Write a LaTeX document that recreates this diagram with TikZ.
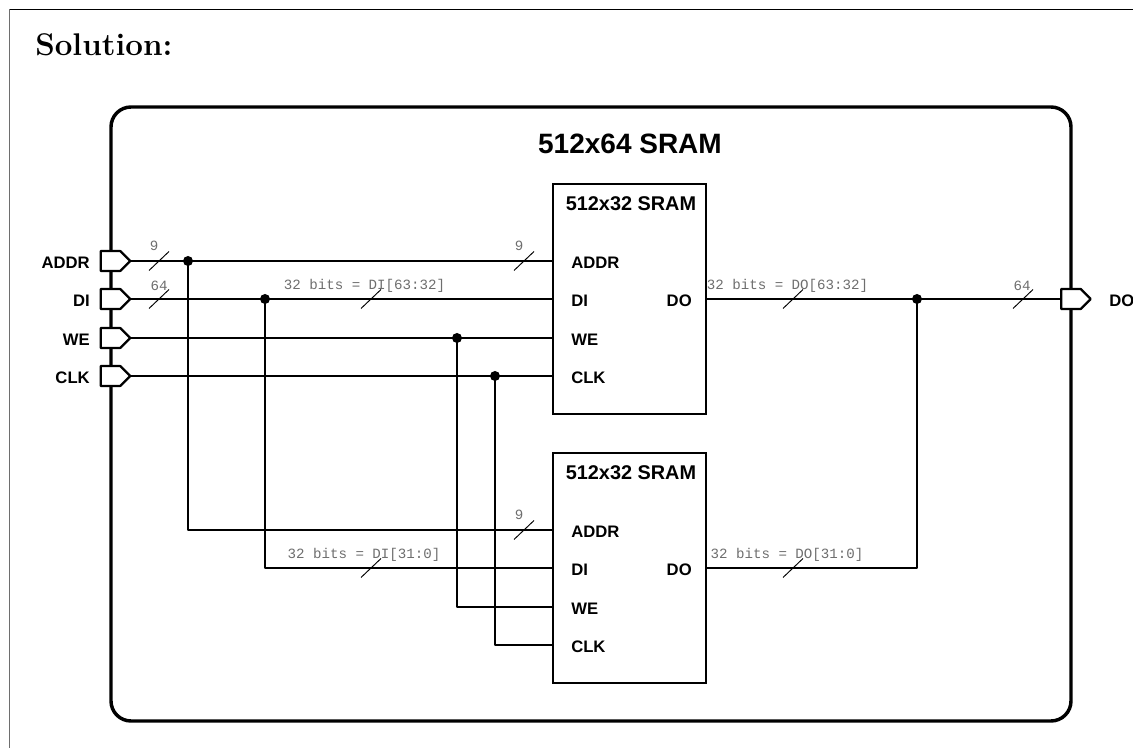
\documentclass[tikz,border=0pt]{standalone}
\usepackage{fontspec}
\setsansfont{Liberation Sans}
\setmonofont{Liberation Mono}
\usetikzlibrary{shapes.symbols}
\definecolor{framegray}{RGB}{110,110,110}
\definecolor{buslabel}{RGB}{110,110,110}
\tikzset{
  wire/.style={line width=1.7pt,line join=round},
  outline/.style={line width=2.6pt,rounded corners=15pt},
  ramblock/.style={draw,line width=1.7pt,minimum width=114.75pt,minimum height=172.5pt,inner sep=0pt,outer sep=0pt},
  port/.style={draw,fill=white,line width=1.7pt,line join=round,signal,signal to=east,signal pointer angle=90,
    minimum width=22pt,minimum height=15pt,inner sep=0pt,outer sep=0pt},
  pinlabel/.style={font=\sffamily\bfseries\fontsize{12.5}{14}\selectfont,inner sep=0pt},
  ramtitle/.style={font=\sffamily\bfseries\fontsize{14.9}{17}\selectfont,inner sep=0pt},
  buslabeltext/.style={font=\ttfamily\fontsize{10.6}{12}\selectfont,text=buslabel,inner sep=0pt},
  busslash/.style={line width=.7pt},
  dotnode/.style={circle,fill,inner sep=0pt,minimum size=7.5pt}
}
\begin{document}
\begin{tikzpicture}[x=.75pt,y=-.75pt]
  \useasboundingbox (0,0) rectangle (1133,748);
  \draw[framegray,line width=.75pt] (9.5,748)--(9.5,9.5);
  \draw[line width=.75pt] (9.5,9.5)--(1133,9.5);
  \node[anchor=base west,inner sep=0pt,font=\bfseries\fontsize{23.5}{28}\selectfont] (solution) at (35,56) {Solution:};
  % outer block
  \draw[outline] (111,107) rectangle (1071,721);
  \node[font=\sffamily\bfseries\fontsize{21}{25}\selectfont,inner sep=0pt] (title) at (630,144) {512x64 SRAM};
  % memories
  \node[ramblock] (ramA) at (629.5,299) {};
  \node[ramblock] (ramB) at (629.5,568) {};
  \node[ramtitle] (titleA) at (631,204) {512x32 SRAM};
  \node[ramtitle] (titleB) at (631,473) {512x32 SRAM};
  \foreach \n/\t/\y in {addr/ADDR/261,di/DI/299,we/WE/338,clk/CLK/376}
  {
    \node[port] (p\n) at (110.5,\y) {};
    \node[pinlabel,anchor=east] (l\n) at (90,\y+2) {\t};
    \coordinate (\n A) at (553,\y);
    \coordinate (\n B) at (553,\y+269);
    \node[pinlabel,anchor=west] (a\n) at (571,\y+2) {\t};
    \node[pinlabel,anchor=west] (b\n) at (571,\y+271) {\t};
  }
  \node[pinlabel,anchor=east] (aDO) at (692,301) {DO};
  \node[pinlabel,anchor=east] (bDO) at (692,570) {DO};
  \coordinate (doA) at (706,299);
  \coordinate (doB) at (706,568);
  \node[port] (pdo) at (1071,299) {};
  \node[pinlabel,anchor=west] (ldo) at (1109,301) {DO};
  % junctions
  \node[dotnode] (jaddr) at (188,261) {};
  \node[dotnode] (jdi) at (265,299) {};
  \node[dotnode] (jwe) at (457,338) {};
  \node[dotnode] (jclk) at (495,376) {};
  \node[dotnode] (jdo) at (917,299) {};
  % wires
  \foreach \n in {addr,di,we,clk}
    {\draw[wire] (p\n.east) -- (\n A);
     \draw[wire] (j\n.center) |- (\n B);}
  \draw[wire] (doA) -- (pdo.west);
  \draw[wire] (doB) -| (jdo.center);
  % bus slashes
  \foreach \x/\y in {159/261,159/299,524/261,371/299,793/299,1023/299,524/530,371/568,793/568}
    {\draw[busslash] (\x-10,\y+9.5) -- (\x+10,\y-9.5);}
  \node[buslabeltext] (w1) at (154,246) {9};
  \node[buslabeltext] (w2) at (159,286) {64};
  \node[buslabeltext] (w3) at (519,246) {9};
  \node[buslabeltext] (w4) at (364.5,286) {32 bits = DI[63:32]};
  \node[buslabeltext] (w5) at (787.5,286) {32 bits = DO[63:32]};
  \node[buslabeltext] (w6) at (1022,286) {64};
  \node[buslabeltext] (w7) at (519,515) {9};
  \node[buslabeltext] (w8) at (364,555) {32 bits = DI[31:0]};
  \node[buslabeltext] (w9) at (787,555) {32 bits = DO[31:0]};
\end{tikzpicture}
\end{document}
